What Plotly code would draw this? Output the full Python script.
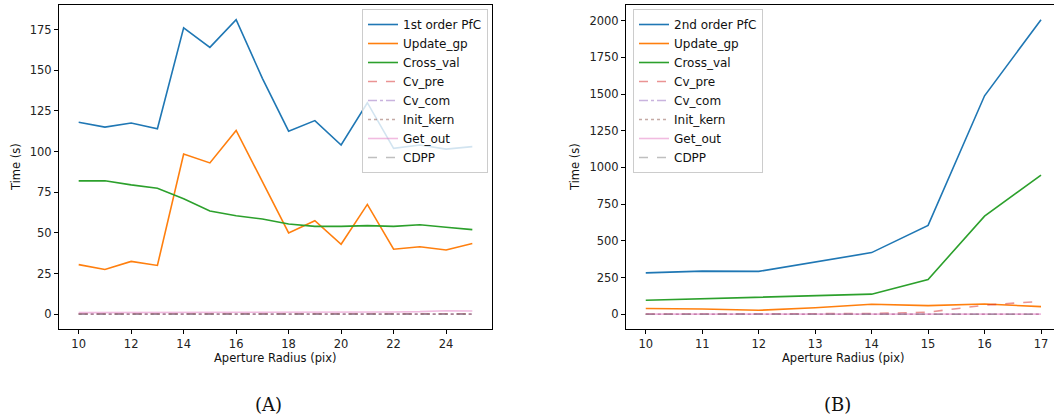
import plotly.graph_objects as go

W, H = 1054, 419

# ---------------- data ----------------
radius_a = [10, 11, 12, 13, 14, 15, 16, 17, 18, 19, 20, 21, 22, 23, 24, 25]
pfc1 = [118, 115, 117.5, 114, 176, 164, 181, 145, 112.5, 119, 104, 130, 102, 104, 101.5, 103]
update_a = [30.5, 27.5, 32.5, 30, 98.5, 93, 113, 81, 50, 57.5, 43, 67.5, 40, 41.5, 39.5, 43.5]
cross_a = [82, 82, 79.5, 77.5, 71, 63.5, 60.5, 58.5, 55.5, 54, 54, 54.5, 54, 55, 53.5, 52]
cvpre_a = [0.3] * 16
cvcom_a = [0.1] * 16
initk_a = [0.1] * 16
getout_a = [1.0, 1.0, 1.0, 1.1, 1.2, 1.2, 1.2, 1.3, 1.3, 1.3, 1.3, 1.3, 1.4, 1.6, 2.2, 2.0]
cdpp_a = [0.1] * 16

radius_b = [10, 11, 12, 13, 14, 15, 16, 17]
pfc2 = [282, 294, 292, 355, 420, 605, 1488, 2006]
update_b = [39, 36, 27, 44, 68, 59, 70, 52]
cross_b = [95, 106, 115, 127, 137, 237, 668, 948]
cvpre_b = [1, 1, 2, 3, 5, 14, 62, 88]
cvcom_b = [0.5] * 8
initk_b = [0.5] * 8
getout_b = [1] * 8
cdpp_b = [0.3] * 8

xticks_a = [10, 12, 14, 16, 18, 20, 22, 24]
yticks_a = [0, 25, 50, 75, 100, 125, 150, 175]
xticks_b = [10, 11, 12, 13, 14, 15, 16, 17]
yticks_b = [0, 250, 500, 750, 1000, 1250, 1500, 1750, 2000]

# ---------------- styles ----------------
styles = [
    ("#1f77b4", "solid", 1.0),
    ("#ff7f0e", "solid", 1.0),
    ("#2ca02c", "solid", 1.0),
    ("#d62728", "dash", 0.5),
    ("#9467bd", "dashdot", 0.5),
    ("#8c564b", "dot", 0.5),
    ("#e377c2", "solid", 0.5),
    ("#7f7f7f", "dash", 0.5),
]

names_a = ["1st order PfC", "Update_gp", "Cross_val", "Cv_pre", "Cv_com", "Init_kern", "Get_out", "CDPP"]
names_b = ["2nd order PfC", "Update_gp", "Cross_val", "Cv_pre", "Cv_com", "Init_kern", "Get_out", "CDPP"]
series_a = [pfc1, update_a, cross_a, cvpre_a, cvcom_a, initk_a, getout_a, cdpp_a]
series_b = [pfc2, update_b, cross_b, cvpre_b, cvcom_b, initk_b, getout_b, cdpp_b]

fig = go.Figure()


def hex_rgba(h, a):
    h = h.lstrip("#")
    r, g, b = int(h[0:2], 16), int(h[2:4], 16), int(h[4:6], 16)
    return f"rgba({r},{g},{b},{a})"


for name, ys, (c, dash, a) in zip(names_a, series_a, styles):
    fig.add_trace(go.Scatter(x=radius_a, y=ys, name=name, mode="lines",
                             line=dict(color=hex_rgba(c, a), dash=dash, width=1.6),
                             xaxis="x", yaxis="y", legend="legend"))
for name, ys, (c, dash, a) in zip(names_b, series_b, styles):
    fig.add_trace(go.Scatter(x=radius_b, y=ys, name=name, mode="lines",
                             line=dict(color=hex_rgba(c, a), dash=dash, width=1.6),
                             xaxis="x2", yaxis="y2", legend="legend2"))

tickfont = dict(family="DejaVu Sans", size=11.5, color="#222")
FONT = "DejaVu Sans"


def px_x(p):
    return p / W


def px_y(p):
    return 1 - p / H


ax_common = dict(showline=True, linecolor="black", linewidth=1, ticks="outside",
                 ticklen=4, tickcolor="black", tickwidth=1, showgrid=False,
                 zeroline=False, tickfont=tickfont)

legfont = dict(family=FONT, size=12, color="#111")

fig.update_layout(
    width=W, height=H,
    margin=dict(l=0, r=0, t=0, b=0),
    plot_bgcolor="white", paper_bgcolor="white",
    showlegend=True,
    xaxis=dict(domain=[px_x(59), px_x(492)], range=[9.25, 25.75], tickvals=xticks_a,
               mirror=True, anchor="y", **ax_common),
    yaxis=dict(domain=[px_y(329), px_y(5)], range=[-9.05, 190.05], tickvals=yticks_a,
               mirror=True, anchor="x", **ax_common),
    xaxis2=dict(domain=[px_x(626), 1.0], range=[9.65, 17.23], tickvals=xticks_b,
                mirror=True, anchor="y2", **ax_common),
    yaxis2=dict(domain=[px_y(329), px_y(5)], range=[-100.3, 2106.3], tickvals=yticks_b,
                mirror=False, anchor="x2", **ax_common),
    legend=dict(x=px_x(488), xanchor="right", y=px_y(9), yanchor="top",
                bgcolor="rgba(255,255,255,0.8)", bordercolor="#cccccc", borderwidth=1,
                font=legfont, itemwidth=30, tracegroupgap=0),
    legend2=dict(x=px_x(633), xanchor="left", y=px_y(9), yanchor="top",
                 bgcolor="rgba(255,255,255,0.8)", bordercolor="#cccccc", borderwidth=1,
                 font=legfont, itemwidth=30, tracegroupgap=0),
)

labfont = dict(family=FONT, size=11.5, color="#111")
annos = [
    dict(text="Time (s)", x=px_x(16), y=px_y(167), textangle=-90, font=labfont),
    dict(text="Aperture Radius (pix)", x=px_x(275), y=px_y(358), font=labfont),
    dict(text="Time (s)", x=px_x(575), y=px_y(167), textangle=-90, font=labfont),
    dict(text="Aperture Radius (pix)", x=px_x(843), y=px_y(358), font=labfont),
    dict(text="(A)", x=px_x(268), y=px_y(404), font=dict(family="DejaVu Serif", size=18, color="#111")),
    dict(text="(B)", x=px_x(837), y=px_y(404), font=dict(family="DejaVu Serif", size=18, color="#111")),
]
for a in annos:
    fig.add_annotation(xref="paper", yref="paper", showarrow=False,
                       xanchor="center", yanchor="middle", **a)

fig.write_html("out.html")
